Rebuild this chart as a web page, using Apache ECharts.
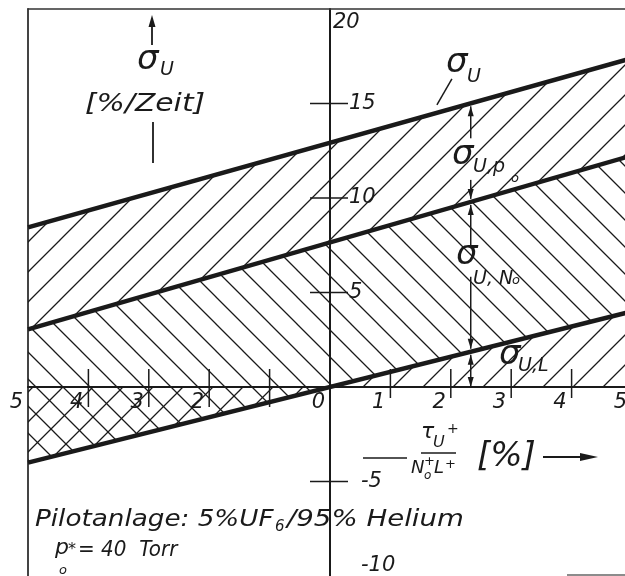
<!DOCTYPE html>
<html>
<head>
<meta charset="utf-8">
<script src="https://cdn.jsdelivr.net/npm/echarts@6/dist/echarts.min.js"></script>
<style>
  html, body { margin: 0; padding: 0; background: #fff; }
  #chart { width: 625px; height: 576px; }
</style>
</head>
<body>
<div id="chart"></div>
<script>
// Band edges at both ends of the x range (τU+ / (No+ L+) in %)
const xRange = [-5, 5];
const sigmaU = [8.45, 17.4];      // σU (total)
const sigmaUNo = [3.05, 12.25];   // boundary σU,Po / σU,No
const sigmaUL = [-4.0, 4.0];      // σU,L
const baseLine = [0, 0];

const xTickValues = [-4, -3, -2, -1, 1, 2, 3, 4];
const xLabelValues = [-5, -4, -3, -2, -1, 0, 1, 2, 3, 4, 5];
const xLabelTexts = ['5', '4', '3', '2', '', '0', '1', '2', '3', '4', '5'];
const yTickValues = [-5, 5, 10, 15];
const yLabelValues = [20, 15, 10, 5, -5, -10];
const yLabelTexts = ['20', '15', '10', '5', '-5', '-10'];
const yRange = [-10, 20];

const arrowX = 2.33;   // position of the band-width arrows
const leaderX = 1.77;  // where the σU leader meets its line

const INK = '#1a1a1a';
const FAMILY = '"DejaVu Sans", "Liberation Sans", sans-serif';
const fnt = (size) => 'italic ' + size + 'px ' + FAMILY;

function lerp(arr, x) {
  return arr[0] + (arr[1] - arr[0]) * (x - xRange[0]) / (xRange[1] - xRange[0]);
}

// Diagonal hatch tile: '/' rises to the right, '\' falls to the right
function makeHatch(step, dir, lw) {
  const c = document.createElement('canvas');
  c.width = step; c.height = step;
  const g = c.getContext('2d');
  g.strokeStyle = INK;
  g.lineWidth = lw;
  g.beginPath();
  for (let k = -1; k <= 2; k++) {
    if (dir === '/') {
      g.moveTo(k * step + step, -step);
      g.lineTo(k * step - 2 * step, 2 * step);
    } else {
      g.moveTo(k * step - step, -step);
      g.lineTo(k * step + 2 * step, 2 * step);
    }
  }
  g.stroke();
  return c;
}

const bands = [
  { upper: sigmaU, lower: sigmaUNo, hatch: makeHatch(30, '/', 1.3) },
  { upper: sigmaUNo, lower: sigmaUL, hatch: makeHatch(27, '\\', 1.3) },
  { upper: sigmaUL, lower: baseLine, hatch: makeHatch(30, '/', 1.3) }
];

function lineSeries(values) {
  return {
    type: 'line',
    data: [[xRange[0], values[0]], [xRange[1], values[1]]],
    symbol: 'none',
    silent: true,
    z: 5,
    lineStyle: { color: INK, width: 4.5 }
  };
}

function head(x, y, up) {
  const d = up ? 10 : -10;
  return {
    type: 'polygon',
    shape: { points: [[x, y], [x - 3, y + d], [x + 3, y + d]] },
    style: { fill: INK, stroke: null }
  };
}
function seg(x1, y1, x2, y2, w) {
  return { type: 'line', shape: { x1, y1, x2, y2 }, style: { stroke: INK, lineWidth: w || 1.5 } };
}

function txt(text, x, y, size, sx, align) {
  const a = align || 'left';
  return {
    type: 'text', x, y, scaleX: sx || 1, silent: true, z: 20,
    style: {
      text, font: fnt(size), fill: INK,
      textAlign: a, textVerticalAlign: 'middle', align: a, verticalAlign: 'middle'
    }
  };
}

const chart = echarts.init(document.getElementById('chart'), null, { renderer: 'canvas' });

const hiddenAxisParts = { axisTick: { show: false }, axisLabel: { show: false }, splitLine: { show: false } };

const option = {
  animation: false,
  backgroundColor: '#fff',
  grid: { left: 28, right: -7, top: 9, bottom: 0, containLabel: false, outerBoundsMode: 'none' },
  xAxis: [
    Object.assign({
      type: 'value', min: xRange[0], max: xRange[1], interval: 1,
      axisLine: { onZero: true, lineStyle: { color: INK, width: 2 } }
    }, hiddenAxisParts),
    Object.assign({
      type: 'value', position: 'top', min: xRange[0], max: xRange[1],
      axisLine: { onZero: false, lineStyle: { color: '#333', width: 1.5 } }
    }, hiddenAxisParts)
  ],
  yAxis: [
    Object.assign({
      type: 'value', min: yRange[0], max: yRange[1], interval: 5,
      axisLine: { onZero: true, lineStyle: { color: INK, width: 2 } }
    }, hiddenAxisParts),
    Object.assign({
      type: 'value', position: 'left', min: yRange[0], max: yRange[1],
      axisLine: { onZero: false, lineStyle: { color: '#444', width: 2 } }
    }, hiddenAxisParts)
  ],
  series: [
    {
      // hatched bands σU,Po, σU,No and σU,L
      type: 'custom', coordinateSystem: 'cartesian2d', silent: true, z: 1,
      data: bands.map(() => [0, 0]),
      renderItem: (params, api) => {
        const b = bands[params.dataIndex];
        const pts = [
          api.coord([xRange[0], b.upper[0]]),
          api.coord([xRange[1], b.upper[1]]),
          api.coord([xRange[1], b.lower[1]]),
          api.coord([xRange[0], b.lower[0]])
        ];
        return {
          type: 'polygon', shape: { points: pts },
          style: { fill: { image: b.hatch, repeat: 'repeat' }, stroke: null }
        };
      }
    },
    lineSeries(sigmaU),
    lineSeries(sigmaUNo),
    lineSeries(sigmaUL),
    {
      // crossing tick marks and tick labels on both axes
      type: 'custom', coordinateSystem: 'cartesian2d', silent: true, z: 6,
      data: [[0, 0]],
      renderItem: (params, api) => {
        const children = [];
        xTickValues.forEach((v) => {
          const p = api.coord([v, 0]);
          children.push(seg(p[0], p[1] - 18, p[0], p[1] + (v < 0 ? 20 : 11), 1.5));
        });
        xLabelValues.forEach((v, i) => {
          const p = api.coord([v, 0]);
          children.push(txt(xLabelTexts[i], p[0] - 5, p[1] + 16, 21, 1, 'right'));
        });
        yTickValues.forEach((v) => {
          const p = api.coord([0, v]);
          children.push(seg(p[0] - 20, p[1], p[0] + 18, p[1], 1.5));
        });
        yLabelValues.forEach((v, i) => {
          const p = api.coord([0, v]);
          let dx = 19, dy = 0;
          if (v === yRange[1]) { dx = 3; dy = 14; }
          else if (v < 0) { dx = 31; }
          if (v === yRange[0]) { dy = -10; }
          children.push(txt(yLabelTexts[i], p[0] + dx, p[1] + dy, 21));
        });
        return { type: 'group', children };
      }
    },
    {
      // band-width arrows and the σU leader
      type: 'custom', coordinateSystem: 'cartesian2d', silent: true, z: 7,
      data: [[0, 0]],
      renderItem: (params, api) => {
        const px = api.coord([arrowX, 0])[0];
        const yTop = api.coord([arrowX, lerp(sigmaU, arrowX)])[1];
        const yMid = api.coord([arrowX, lerp(sigmaUNo, arrowX)])[1];
        const yBot = api.coord([arrowX, lerp(sigmaUL, arrowX)])[1];
        const y0 = api.coord([arrowX, 0])[1];
        const lead = api.coord([leaderX, lerp(sigmaU, leaderX)]);
        return {
          type: 'group',
          children: [
            seg(px, yTop + 3, px, yTop + 35), head(px, yTop + 3, true),
            seg(px, yMid - 22, px, yMid - 3), head(px, yMid - 3, false),
            seg(px, yMid + 3, px, yMid + 44), head(px, yMid + 3, true),
            seg(px, yBot - 75, px, yBot - 3), head(px, yBot - 3, false),
            seg(px, yBot + 3, px, y0), head(px, yBot + 3, true), head(px, y0, false),
            seg(lead[0], lead[1] - 8, lead[0] + 15, lead[1] - 34, 1.5)
          ]
        };
      }
    }
  ],
  graphic: [
    // y axis title
    { type: 'line', shape: { x1: 152, y1: 45, x2: 152, y2: 24 }, style: { stroke: INK, lineWidth: 1.8 } },
    { type: 'polygon', shape: { points: [[152, 15], [148.5, 27], [155.5, 27]] }, style: { fill: INK } },
    txt('σ', 137, 60, 34),
    txt('U', 160, 70, 19),
    txt('[%/Zeit]', 85, 105, 24, 1.24),
    { type: 'line', shape: { x1: 153, y1: 122, x2: 153, y2: 163 }, style: { stroke: INK, lineWidth: 1.8 } },

    // band labels
    txt('σ', 446, 63, 34), txt('U', 467, 77, 19),
    txt('σ', 452, 155, 34), txt('U,p', 473, 167, 19), txt('o', 511, 179, 13),
    txt('σ', 456, 255, 34), txt('U, N', 473, 279, 19), txt('o', 512, 281, 13),
    txt('σ', 499, 355, 34), txt('U,L', 518, 366, 19),

    // x axis title
    { type: 'line', shape: { x1: 363, y1: 458, x2: 407, y2: 458 }, style: { stroke: INK, lineWidth: 1.6 } },
    txt('τ', 421, 432, 22), txt('U', 433, 443, 16), txt('+', 447, 429, 14),
    { type: 'line', shape: { x1: 421, y1: 453, x2: 456, y2: 453 }, style: { stroke: INK, lineWidth: 1.6 } },
    txt('N', 411, 468, 18), txt('+', 424, 462, 13), txt('o', 424, 476, 12),
    txt('L', 434, 468, 18), txt('+', 445, 465, 13),
    txt('[%]', 477, 457, 34),
    { type: 'line', shape: { x1: 543, y1: 457, x2: 586, y2: 457 }, style: { stroke: INK, lineWidth: 1.8 } },
    { type: 'polygon', shape: { points: [[598, 457], [580, 453], [580, 461]] }, style: { fill: INK } },

    // operating conditions
    txt('Pilotanlage: 5%UF', 35, 520, 23, 1.14),
    txt('6', 275, 527, 15),
    txt('/95% Helium', 287, 520, 23, 1.2),
    txt('p', 55, 548, 22),
    txt('o', 59, 571, 13),
    txt('*', 68, 550, 16),
    txt('= 40  Torr', 78, 551, 21, 0.95),

    { type: 'line', shape: { x1: 567, y1: 575, x2: 625, y2: 575 }, style: { stroke: '#666', lineWidth: 1.5 } }
  ]
};

chart.setOption(option);
</script>
</body>
</html>
